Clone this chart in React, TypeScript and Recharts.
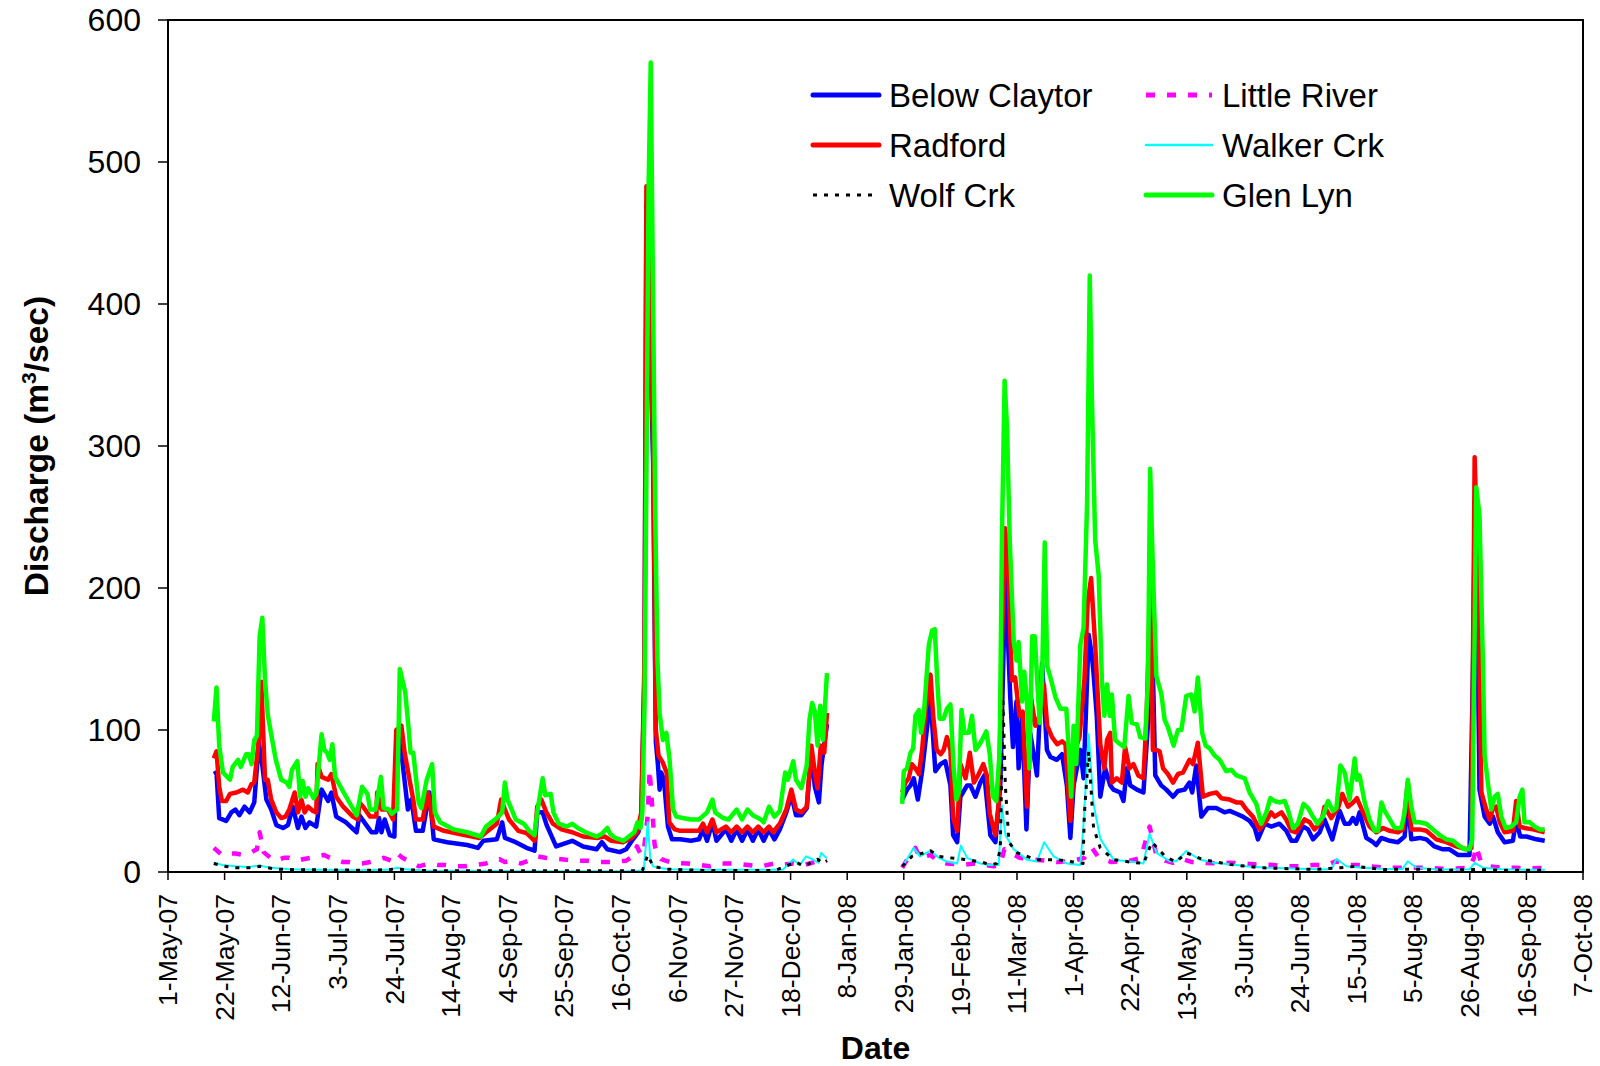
import React from 'react';
import { LineChart, Line, XAxis, YAxis, ReferenceArea, Legend } from 'recharts';

type P = [number, number | null];

// day offsets from 1-May-07; tick every 21 days
const xTickLabels = [
  '1-May-07', '22-May-07', '12-Jun-07', '3-Jul-07', '24-Jul-07', '14-Aug-07', '4-Sep-07',
  '25-Sep-07', '16-Oct-07', '6-Nov-07', '27-Nov-07', '18-Dec-07', '8-Jan-08', '29-Jan-08',
  '19-Feb-08', '11-Mar-08', '1-Apr-08', '22-Apr-08', '13-May-08', '3-Jun-08', '24-Jun-08',
  '15-Jul-08', '5-Aug-08', '26-Aug-08', '16-Sep-08', '7-Oct-08',
];
const yTicks = [0, 100, 200, 300, 400, 500, 600];

const belowClaytor: P[] = [
  [17,69],[18,70],[19,38],[21.6,36],[23.5,42],[25,44],[26.5,40],[28.4,46],[30.3,42],[32,49],[33.7,91],[35,75],[36.5,51],[38.3,44],[40.2,33],[42.7,31],[44.5,33],[46.3,46],[48.2,31],[49.5,39],[51,31],[52.5,35],[55,32],[57,58],[59.4,50],[60.6,56],[62.4,39],[66,35],[70,28],[71,40],[73.6,33],[75.5,28],[77.3,28],[78.3,38],[79.2,28],[80.4,37],[82.3,26],[84,25],[85,100],[86.6,84],[89,44],[90.3,51],[92,29],[94.5,29],[97,56],[98.6,23],[103.6,21],[111,19],[115,17],[117,22],[122,23],[124,35],[125,24],[129,21],[133,17],[136,15],[137,42],[139,42],[140.5,33],[144,18],[150,22],[154,18],[159,16],[161,21],[163,16],[167.6,14],[170,16],[172.5,23],[174.5,28],[175.6,38],[176.8,140],[177.5,470],[178.3,428],[179.1,358],[180,288],[181,92],[181.8,75],[182.4,58],[183,70],[184,65],[185.5,32],[187,23],[190,23],[194,22],[197,23],[198.5,30],[200,22],[202,35],[203.5,22],[207,30],[209,22],[211,30],[213,22],[215,30],[217,22],[219,30],[221,22],[223,30],[225,23],[227,30],[229.4,42],[231.3,54],[233,40],[235,40],[237,45],[238.7,84],[240,60],[241.5,49],[242.5,76],[244.5,104],
  [258,null],
  [272.4,51],[274.2,58],[275.5,61],[276.7,66],[278.2,51],[279.8,71],[282.9,123],[284.7,71],[286.6,76],[288.4,78],[290.3,61],[291.3,26],[292.8,21],[294,53],[296.5,61],[297.7,61],[299.6,53],[301.4,63],[302.9,68],[305.1,26],[307,21],[308.8,61],[310.7,209],[312.5,123],[313.5,88],[314.8,120],[315.6,73],[316.9,110],[318.5,30],[319.9,98],[322.4,68],[324.3,147],[326.1,86],[327.4,81],[329.8,79],[331.7,83],[333.5,61],[334.8,24],[336,61],[338.5,86],[339.7,66],[341.6,167],[342.8,152],[343.4,140],[344.6,110],[345.9,53],[347.7,73],[349.6,61],[350.8,58],[353.3,56],[354.5,50],[355.8,73],[357,61],[359.5,58],[361.9,56],[363.8,110],[365,177],[366.3,68],[368.5,61],[370.4,58],[372.9,53],[374.7,57],[377.2,58],[379,63],[380,56],[381.5,75],[383.4,39],[385.8,45],[388.9,45],[392,42],[393.9,43],[396.4,41],[398.8,39],[401.3,36],[403.2,31],[404.4,23],[406.9,34],[409.3,32],[412.4,34],[414.9,29],[416.8,22],[418.6,22],[421.1,32],[423,30],[424.8,23],[427.3,28],[429.1,37],[432,23],[434.7,43],[436.6,34],[438.4,34],[439.6,38],[440.9,34],[442.1,42],[444.6,24],[447.1,21],[448.3,19],[450.2,24],[453.3,22],[456.3,21],[458.8,25],[460,51],[461.3,23],[464.4,24],[466.9,23],[469.9,18],[473,16],[475.5,16],[478.6,12],[482.9,12],[484.2,145],[484.8,240],[486,150],[486.6,58],[488.5,39],[490.4,34],[491.6,39],[493.4,28],[495.9,21],[499,22],[500.2,37],[501.7,25],[504,25],[507.7,23],[510.8,22],
];

const radford: P[] = [
  [17,80],[18,85],[19,60],[20,50],[21.6,50],[23,55],[25.4,56],[27.8,58],[29.6,56],[31,62],[32,63],[33.7,93],[34.6,134],[36,65],[37,65],[38.3,51],[40.2,42],[42,38],[43.6,39],[45,44],[47,56],[48.2,42],[49.5,51],[50.7,42],[52,46],[53.8,43],[55,42],[55.5,76],[57,67],[59.4,65],[60.6,69],[62.4,53],[65,46],[68.6,39],[70.5,37],[71,49],[72.4,46],[75,39],[77.3,39],[77.6,56],[79.2,44],[81.6,44],[83.5,37],[84.7,100],[86.6,103],[87.8,84],[89.6,65],[91,51],[92,37],[94.5,37],[96.4,56],[98.6,32],[102.4,29],[110,26],[115.6,24],[118,28],[122,34],[123.6,51],[125,44],[126.5,37],[130,29],[133,27.5],[136,22],[137,46],[138.5,51],[140.4,42],[142.8,34],[146,30],[150,28],[154,25],[159.5,24],[162,25],[164.5,22],[168.8,21],[172,24],[174,28],[175.6,42],[176.8,150],[177.5,483],[178.3,440],[179.1,370],[180,300],[181,100],[182,82],[183.6,77],[185,70],[186,35],[188,30],[190,29],[194,29],[197,29],[198.5,34],[200,28],[202,37],[203.5,28],[207,32],[209,28],[211,32],[213,28],[215,32],[217,28],[219,32],[221,28],[223,32],[224.5,28],[227,34],[229.4,44],[231.3,58],[233,44],[235,42],[237,46],[238.7,89],[240,70],[241,59],[242.2,89],[243.5,84],[244.5,112],
  [258,null],
  [272.4,56],[273.6,63],[274.8,66],[276,76],[277.3,73],[278.6,69],[279.8,86],[281,113],[282.9,139],[283.9,110],[285.2,86],[286.7,83],[287.8,86],[289,95],[290.3,86],[291.3,38],[292.8,29],[294,76],[295.9,66],[297.5,84],[299,63],[300.8,69],[302.5,76],[303.8,68],[304.9,41],[307,26],[308.2,48],[309.4,160],[310.6,242],[311.6,222],[313.1,135],[314.3,137],[315.9,110],[317.1,113],[318.7,46],[320.2,123],[321.8,103],[323.4,110],[325,132],[326.2,103],[328,95],[329.9,90],[331.7,92],[333,90],[333.8,63],[334.8,36],[336.6,86],[338.2,95],[340,135],[341.2,189],[342.5,207],[344,160],[345.9,90],[347.4,73],[348.4,93],[349.6,98],[350.2,63],[352,66],[353.9,63],[355.1,88],[356.7,73],[358.2,76],[360,68],[361.9,66],[363.1,110],[364.6,214],[365.4,86],[366.7,86],[367.9,85],[369.2,73],[371,69],[372.9,63],[374.7,69],[376.6,70],[379,79],[380.3,76],[382.1,91],[384,53],[386.5,55],[389,56],[390.8,52],[393.9,51],[396.4,49],[398.2,49],[400.1,44],[402.5,39],[405,30],[407.5,36],[409.3,42],[410.6,39],[413.1,42],[414.9,37],[416.8,29],[418.6,28],[421.7,37],[423.6,35],[425.4,30],[427.9,35],[429.1,46],[431.6,38],[434.1,45],[435.7,55],[437.8,46],[439.7,49],[441.1,52],[443.4,42],[445.8,32],[448.3,28],[450.8,31],[453.3,29],[456.4,28],[458.2,30],[460,63],[461.3,30],[464.4,30],[466.9,29],[470.6,23],[474.3,21],[478,18],[481.7,16],[483.6,17],[484.8,292],[486,215],[487.3,56],[489.1,44],[490.4,37],[491.6,45],[492.8,46],[494.1,35],[495.9,28],[499,29],[500.2,50],[501.5,32],[503.3,31],[506.4,30],[510.8,28],
];

const glenLyn: P[] = [
  [17,106],[18,130],[19,89],[20.4,70],[23,65],[24,74],[26,79],[27,74],[29,83],[30,83],[31,76],[32,93],[33,96],[34,166],[35,179],[36,135],[37,111],[38,100],[40,79],[42,65],[44,63],[45,60],[46,72],[48,78],[49,53],[50,64],[51,53],[52,59],[54,52],[55,55],[57,97],[58,86],[59,84],[60,79],[61,90],[62,67],[64,60],[67,50],[70,40],[72,60],[74,55],[75,44],[77,44],[79,67],[80,45],[82,44],[83,41],[85,44],[86,143],[88,127],[89,107],[90,84],[91,84],[93,49],[94,45],[96,65],[98,76],[99,42],[101,35],[106,30],[111,28],[116,25],[118,32],[122,38],[124,42],[125,63],[126,51],[129,37],[132,34],[134,29],[136,26],[137,42],[139,66],[140,54],[142,55],[143,42],[145,34],[148,32],[150,34],[152,31],[155,28],[159,25],[161,27],[163,31],[164,27],[166,24],[169,22],[171,25],[173,28],[174.2,35],[175.3,31],[176,42],[176.8,117],[177.6,300],[178.3,480],[179.1,570],[180,400],[180.8,250],[181.6,150],[182.4,112],[183.6,93],[184.9,98],[186.1,79],[187.4,44],[188.6,39],[191,38],[194,37],[197,37],[200,42],[202,51],[203,42],[206,38],[208,37],[211,44],[213,37],[215,44],[217,40],[220,37],[221,35],[223,46],[225,39],[227,43],[229,70],[230,65],[232,78],[233,65],[235,59],[237,75],[238,107],[239,119],[240,113],[241,89],[242,117],[243,93],[244.5,140],
  [258,null],
  [272.4,48],[273,71],[274.2,73],[275.5,84],[276.5,87],[277.3,110],[278.6,114],[279.4,98],[280.4,110],[282.3,160],[283.5,170],[284.5,171],[285.4,135],[286.3,108],[287.8,108],[289,115],[290.3,118],[291.5,73],[292.5,51],[293.4,56],[294.4,114],[295.5,98],[297.1,98],[298.3,110],[299.6,86],[300.8,89],[302,93],[303.6,99],[304.9,83],[306.1,53],[307.3,50],[308.6,86],[309.4,234],[310.4,346],[311.3,313],[312.3,234],[313.8,162],[314.8,149],[315.6,162],[316.9,120],[317.7,141],[318.7,120],[319.6,73],[320.6,166],[321.6,166],[322.5,135],[323.4,105],[324.3,135],[325.3,232],[326.2,145],[327.4,137],[329.3,123],[331.1,115],[333.3,115],[334.2,86],[335.1,53],[336,103],[337,76],[338.5,160],[339.7,172],[341,259],[342,420],[342.8,333],[344,234],[345.3,209],[346.5,135],[347.4,110],[348.4,132],[349.4,110],[350.2,125],[351.4,93],[353.3,90],[354.8,88],[356.4,124],[357.6,105],[359.5,104],[360.7,95],[362.6,94],[363.6,135],[364.4,284],[365.4,215],[366.7,138],[368.5,126],[369.8,107],[371,102],[373.1,89],[374.7,100],[376,100],[377.8,124],[379.7,125],[380.9,113],[382.1,137],[383.7,98],[385,89],[386.5,87],[388.3,82],[390.2,79],[392.6,71],[394.5,72],[396.4,68],[399.5,66],[401.3,56],[403.8,48],[405.6,34],[407.5,42],[409,52],[410.5,50],[412.4,49],[414.3,50],[415.5,44],[417.4,31],[419.2,34],[421.3,48],[423,45],[424.8,39],[426.5,34],[428.5,39],[430.4,50],[432.2,43],[433.5,45],[435,75],[436.6,70],[438.4,51],[440.3,80],[441.1,65],[442.1,68],[444,49],[445.8,37],[447.7,29],[449,29],[450.2,49],[451.4,43],[453.3,37],[455.1,31],[457.6,31],[458.8,42],[460,65],[461.3,46],[462.5,35],[464.4,35],[466.9,34],[469.3,30],[471.8,26],[474.3,23],[476.8,22],[478.6,19],[481.1,16],[482.9,16],[483.9,23],[484.8,168],[485.4,271],[486.6,251],[487.9,145],[488.5,82],[489.7,63],[491,44],[492.2,53],[493.4,55],[494.7,39],[496.3,31],[498.4,32],[500.2,35],[501.5,53],[502.5,58],[503.3,35],[505.2,35],[507,32],[508.9,30],[510.8,30],
];

const littleRiver: P[] = [
  [17,17],[20,12],[22,13],[25,13],[28,12],[30,13],[33,16],[34,28],[35.5,14],[38,10],[40,8],[43,10],[45,10],[48,8],[50,9],[53,10],[55,11],[58,12],[60,10],[62,9],[65,7],[67,7],[70,6],[72,6],[75,7],[77,8],[80,10],[83,8],[85,13],[87,10],[90,7],[93,4],[97,6],[100,5],[103,5],[107,4],[110,4],[114,5],[118,6],[121,8],[123,9],[125,7],[127,8],[131,6],[134,8],[137,11],[140,10],[146,9],[150,8],[156,8],[160,7],[165,7],[170,8],[172.5,11],[174,18],[175.5,12],[176.5,14],[178,40],[178.7,72],[179.5,50],[180.5,20],[181.2,13],[183,9],[187,6.5],[193,6],[197,5],[201,4],[205,6],[210,6],[215,5],[220,4],[225,6],[228,5],[232,6],[236,5],[240,7],[244.5,8],
  [258,null],
  [272.4,3],[274,8],[277.3,17],[279,10],[282.9,12],[285.4,8],[289,6],[295.2,5],[299,6],[306.4,4],[308.8,5],[310.3,16],[312,14],[316,10],[320,9],[326,8],[330,7],[336,8],[340,10],[342.8,17],[345,11],[350,7],[357,8],[361,10],[364.2,32],[366.7,12],[370,8],[372.9,6.5],[376.6,9],[380,7],[384,6.5],[390,6],[393.9,6.5],[399,6],[403.8,5.3],[410,5],[414.9,4],[420,4],[424.8,5],[430,5],[433.5,7.7],[437,5],[440.9,5],[446,4],[452,3],[458,3],[463,3],[468,3],[473,2.3],[478,2.5],[483,3],[484.5,10],[485.4,18],[487,8],[490.4,4],[495,3],[500.2,3],[505,2.5],[510.8,3],
];

const walkerCrk: P[] = [
  [17,6.5],[20,5],[25,4],[30,3.5],[34,4.5],[38,3],[45,2],[55,1.5],[70,1.2],[82,1.5],[85,3],[88,2],[95,1],[110,0.8],[130,0.6],[150,0.5],[170,0.5],[176.5,1],[178,35],[179,8],[180,4],[182,3],[186,2],[200,1.5],[220,1.5],[228,1.5],[229.4,4],[231.9,8.8],[234.4,5],[236.8,11],[239.3,8.8],[241.2,6.5],[242.4,13.5],[243.6,11],[244.5,10],
  [258,null],
  [272.4,4],[274.5,10],[276.7,17],[279,11],[282.9,15],[286,10],[289,7.4],[292.8,6],[294.2,18.6],[296.5,10],[301.4,6],[305,5],[308.2,5],[309.4,47],[310.7,26],[313.8,16],[318.7,8.7],[322.4,7.4],[325.1,21],[328.6,11],[333.5,6],[338.5,5],[339.5,28.5],[341.6,97],[343.4,48],[345.9,23.5],[350.8,8.7],[357,7.4],[361.9,6],[364.2,27],[366.8,13.5],[371.6,7.6],[374,7.6],[377.8,14.7],[382.8,8.8],[388,6.5],[395,5.3],[400,4],[407.5,3],[420,2.3],[429.8,1.8],[432,3],[433.5,9.3],[437.2,4],[443,3],[450.8,2.3],[458,2],[460,7.6],[463.2,3],[470,2],[475.5,1.8],[483,2],[484.8,6.5],[487.9,3],[495,2],[503,1.5],[510.8,1.5],
];

const wolfCrk: P[] = [
  [17,6],[21,4],[25,3],[30,3],[34,4],[40,2],[50,1.5],[60,1.5],[75,1.2],[85,2],[95,1],[110,0.8],[140,0.8],[170,0.8],[176,1],[178,12],[180,4],[185,2],[200,1],[225,1],[229,4],[233,7],[236,4],[238,6],[241,9],[243,6],[244.5,8],
  [258,null],
  [272.4,4],[276,11],[282.9,15],[286,11],[290,10],[295,9],[302,7],[305,5],[307.5,6],[308.8,16],[309.8,120],[310.7,60],[312,21],[315,13.6],[322,8.7],[330,8.7],[336,7],[339.5,6],[340,41],[341.6,85],[343.4,31],[345.9,17],[350.8,8.7],[357,7],[362,6],[365,21],[370,11],[374,7],[377.8,13.5],[384,8.8],[394,5.3],[405,3],[425,1.8],[435,3],[441,4],[450,1.8],[462,2],[475,1.3],[485,1.8],[495,1.3],[510.8,1.3],
];

type S = { name: string; pts: P[]; color: string; width: number; dash?: string; legendWidth: number };
const series: S[] = [
  { name: 'Below Claytor', pts: belowClaytor, color: '#0000FF', width: 4.5, legendWidth: 5 },
  { name: 'Little River', pts: littleRiver, color: '#FF00FF', width: 4.5, dash: '9 12', legendWidth: 5 },
  { name: 'Radford', pts: radford, color: '#FF0000', width: 4.5, legendWidth: 5 },
  { name: 'Walker Crk', pts: walkerCrk, color: '#00FFFF', width: 2, legendWidth: 2.5 },
  { name: 'Wolf Crk', pts: wolfCrk, color: '#000000', width: 3, dash: '4 7', legendWidth: 3 },
  { name: 'Glen Lyn', pts: glenLyn, color: '#00FF00', width: 4.5, legendWidth: 5 },
];

const legendRows = [
  ['Below Claytor', 'Little River'],
  ['Radford', 'Walker Crk'],
  ['Wolf Crk', 'Glen Lyn'],
];

const FONT = '"Liberation Sans", Arial, Helvetica, sans-serif';

const XTick = (props: any) => {
  const { x, y, payload } = props;
  const label = xTickLabels[Math.round(payload.value / 21)];
  return (
    <text
      x={x}
      y={y}
      transform={`rotate(-90 ${x} ${y})`}
      textAnchor="end"
      dy="0.35em"
      fontSize={26.5}
      fontFamily={FONT}
      fill="#000"
    >
      {label}
    </text>
  );
};

const renderLegend = () => (
  <svg width={1600} height={240} style={{ display: 'block', overflow: 'visible' }}>
    {legendRows.map((row, r) =>
      row.map((name, c) => {
        const s = series.find((q) => q.name === name)!;
        const y = 95 + r * 50;
        const x0 = c === 0 ? 813 : 1146;
        return (
          <g key={name}>
            <line
              x1={x0}
              x2={x0 + 66}
              y1={y}
              y2={y}
              stroke={s.color}
              strokeWidth={s.legendWidth}
              strokeDasharray={s.dash}
              strokeLinecap={s.dash ? 'butt' : 'round'}
            />
            <text x={x0 + 76} y={y} dy="0.35em" fontSize={33} fontFamily={FONT} fill="#000">
              {name}
            </text>
          </g>
        );
      })
    )}
  </svg>
);

const YTitle = (props: any) => {
  const vb = props.viewBox || {};
  const cy = vb.height ? vb.y + vb.height / 2 : 446;
  const cx = 48;
  return (
    <text
      x={cx}
      y={cy}
      transform={`rotate(-90 ${cx} ${cy})`}
      textAnchor="middle"
      fontSize={33.5}
      fontWeight="bold"
      fontFamily={FONT}
      fill="#000"
    >
      Discharge (m<tspan dy={-12} fontSize={21}>3</tspan>
      <tspan dy={12}>/sec)</tspan>
    </text>
  );
};

const XTitle = (props: any) => {
  const vb = props.viewBox || {};
  const cx = vb.width ? vb.x + vb.width / 2 : 875;
  return (
    <text x={cx} y={1059} textAnchor="middle" fontSize={32} fontWeight="bold" fontFamily={FONT} fill="#000">
      Date
    </text>
  );
};

export default function App() {
  return (
    <div style={{ position: 'absolute', left: 0, top: 0, background: '#fff', fontFamily: FONT }}>
      <LineChart width={1600} height={1066} margin={{ top: 20, right: 17, bottom: 0, left: 0 }}>
        <XAxis
          type="number"
          dataKey="day"
          domain={[0, 525]}
          ticks={xTickLabels.map((_, i) => i * 21)}
          interval={0}
          height={194}
          tickSize={8}
          tickMargin={14}
          tick={<XTick />}
          axisLine={{ stroke: '#000', strokeWidth: 2 }}
          tickLine={{ stroke: '#000', strokeWidth: 1.5 }}
          label={{ content: <XTitle /> }}
        />
        <YAxis
          type="number"
          domain={[0, 600]}
          ticks={yTicks}
          interval={0}
          width={168}
          tickSize={10}
          tickMargin={17}
          tick={{ fontSize: 32, fill: '#000', fontFamily: FONT }}
          axisLine={{ stroke: '#000', strokeWidth: 2 }}
          tickLine={{ stroke: '#000', strokeWidth: 1.5 }}
          label={{ content: <YTitle /> }}
        />
        <ReferenceArea x1={0} x2={525} y1={0} y2={600} fill="none" stroke="#000" strokeWidth={2} ifOverflow="visible" />
        {series.map((s) => (
          <Line
            key={s.name}
            name={s.name}
            data={s.pts.map(([d, v]) => ({ day: d, v }))}
            dataKey="v"
            type="linear"
            stroke={s.color}
            strokeWidth={s.width}
            strokeDasharray={s.dash}
            strokeLinejoin="round"
            dot={false}
            activeDot={false}
            connectNulls={false}
            isAnimationActive={false}
          />
        ))}
        <Legend
          layout="horizontal"
          align="center"
          verticalAlign="middle"
          content={renderLegend}
          wrapperStyle={{ left: 0, top: 0, width: 1600, height: 240, pointerEvents: 'none' }}
        />
      </LineChart>
    </div>
  );
}
